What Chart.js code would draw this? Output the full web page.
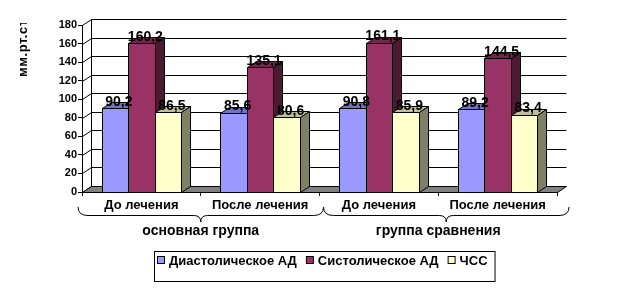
<!DOCTYPE html>
<html>
<head>
<meta charset="utf-8">
<script src="https://cdn.jsdelivr.net/npm/chart.js@4.4.1/dist/chart.umd.min.js"></script>
<style>
  body { margin: 0; background: #fff; }
  #wrap { width: 623px; height: 293px; }
</style>
</head>
<body>
<div id="wrap"><canvas id="chart" width="623" height="293"></canvas></div>
<script>
// data
const categories = ['До лечения', 'После лечения', 'До лечения', 'После лечения'];
const groupNames = ['основная группа', 'группа сравнения'];
const groupSpans = [[0, 1], [2, 3]];
const seriesNames = ['Диастолическое АД', 'Систолическое АД', 'ЧСС'];
const diastolic = [90.2, 85.6, 90.8, 89.2];
const systolic = [160.2, 135.1, 161.1, 144.5];
const heartRate = [86.5, 80.6, 85.9, 83.4];
const yMin = 0, yMax = 180, yStep = 20;
const yTitle = 'мм.рт.ст';

const frontColors = ['#9999FF', '#993366', '#FFFFCC'];
const topColors = ['#7373BF', '#73264D', '#BFBF99'];
const sideColors = ['#4D4D80', '#4D1A33', '#808066'];
const DX = 9, DY = -6; // depth of the 3d box
const FONT = '"Liberation Sans", Arial, sans-serif';

function fmt(v) {
  return v.toFixed(1).replace('.', ',');
}

function poly(ctx, pts, fill) {
  ctx.beginPath();
  ctx.moveTo(pts[0][0], pts[0][1]);
  for (let i = 1; i < pts.length; i++) ctx.lineTo(pts[i][0], pts[i][1]);
  ctx.closePath();
  ctx.fillStyle = fill;
  ctx.fill();
  ctx.stroke();
}

// walls, floor, bars and value labels drawn by hand to get the 3d look
const box3d = {
  id: 'box3d',
  beforeDatasetsDraw(chart) {
    const ctx = chart.ctx;
    const area = chart.chartArea;
    const y = chart.scales.y;
    const L = area.left + 0.5, R = area.right + 0.5, B = Math.round(y.getPixelForValue(0)) + 0.5;
    ctx.save();
    ctx.lineWidth = 1;
    ctx.strokeStyle = '#000';

    // back wall grid + diagonals on left wall
    for (let v = yMin; v <= yMax; v += yStep) {
      const py = Math.round(y.getPixelForValue(v)) + 0.5;
      ctx.beginPath();
      ctx.moveTo(L, py);
      ctx.lineTo(L + DX, py + DY);
      ctx.lineTo(R + DX, py + DY);
      ctx.stroke();
    }
    ctx.beginPath();
    ctx.moveTo(L + DX, Math.round(y.getPixelForValue(yMax)) + 0.5 + DY);
    ctx.lineTo(L + DX, B + DY);
    ctx.stroke();

    // floor
    poly(ctx, [[L, B], [R, B], [R + DX, B + DY], [L + DX, B + DY]], '#808080');

    // bars, category by category so the next bar hides the previous side face
    const metas = chart.data.datasets.map((d, i) => chart.getDatasetMeta(i));
    for (let c = 0; c < categories.length; c++) {
      metas.forEach((meta, d) => {
        const bar = meta.data[c];
        const p = bar.getProps(['x', 'y', 'base', 'width'], true);
        const l = Math.round(p.x - p.width / 2) + 0.5;
        const r = Math.round(p.x + p.width / 2) + 0.5;
        const t = Math.round(p.y) + 0.5;
        const b = Math.round(p.base) + 0.5;
        poly(ctx, [[l, t], [r, t], [r, b], [l, b]], frontColors[d]);
        poly(ctx, [[l, t], [r, t], [r + DX, t + DY], [l + DX, t + DY]], topColors[d]);
        poly(ctx, [[r, t], [r + DX, t + DY], [r + DX, b + DY], [r, b]], sideColors[d]);
      });
    }

    // value labels
    ctx.fillStyle = '#000';
    ctx.font = 'bold 14px ' + FONT;
    ctx.textAlign = 'center';
    ctx.textBaseline = 'middle';
    metas.forEach((meta, d) => {
      meta.data.forEach((bar, c) => {
        const p = bar.getProps(['x', 'y'], true);
        ctx.fillText(fmt(chart.data.datasets[d].data[c]), p.x + 4, p.y - 6);
      });
    });
    ctx.restore();
    return false;
  },
  afterDraw(chart) {
    const ctx = chart.ctx;
    const x = chart.scales.x;
    ctx.save();

    // braces + group names
    ctx.strokeStyle = '#000';
    ctx.lineWidth = 1;
    ctx.fillStyle = '#000';
    ctx.font = 'bold 14px ' + FONT;
    ctx.textAlign = 'center';
    ctx.textBaseline = 'middle';
    const half = (x.getPixelForValue(1) - x.getPixelForValue(0)) / 2;
    groupSpans.forEach((span, g) => {
      const x0 = x.getPixelForValue(span[0]) - half - 4 + 8 * g;
      const x1 = x.getPixelForValue(span[1]) + half + 4 + 8 * g;
      const xc = (x0 + x1) / 2;
      const yTop = 207, yMid = 215.5, yTip = 222;
      ctx.beginPath();
      ctx.moveTo(x0, yTop);
      ctx.quadraticCurveTo(x0, yMid, x0 + 10, yMid);
      ctx.lineTo(xc - 7, yMid);
      ctx.quadraticCurveTo(xc, yMid, xc, yTip);
      ctx.quadraticCurveTo(xc, yMid, xc + 7, yMid);
      ctx.lineTo(x1 - 10, yMid);
      ctx.quadraticCurveTo(x1, yMid, x1, yTop);
      ctx.stroke();
      const mid = (x.getPixelForValue(span[0]) + x.getPixelForValue(span[1])) / 2;
      ctx.fillText(groupNames[g], mid, 231);
    });

    // y title, cut off at the top like the original
    ctx.save();
    ctx.beginPath();
    ctx.rect(0, 23, 60, 100);
    ctx.clip();
    ctx.translate(27, 77);
    ctx.rotate(-Math.PI / 2);
    ctx.font = 'bold 13px ' + FONT;
    ctx.letterSpacing = '0.6px';
    ctx.textAlign = 'left';
    ctx.textBaseline = 'alphabetic';
    ctx.fillText(yTitle, 0, 0);
    ctx.restore();

    // legend box
    ctx.font = 'bold 13px ' + FONT;
    ctx.textAlign = 'left';
    ctx.textBaseline = 'middle';
    const boxL = 154, boxT = 251, boxB = 281;
    let cx = 157;
    const ly = 264;
    seriesNames.forEach((name, i) => {
      ctx.fillStyle = frontColors[i];
      ctx.fillRect(cx + 0.5, ly - 7.5, 7, 7);
      ctx.strokeRect(cx + 0.5, ly - 7.5, 7, 7);
      ctx.fillStyle = '#000';
      ctx.fillText(name, cx + 12, ly - 3);
      cx += 12 + ctx.measureText(name).width + 9;
    });
    const boxR = cx - 9 + 7;
    ctx.strokeRect(boxL + 0.5, boxT + 0.5, boxR - boxL, boxB - boxT);
    ctx.restore();
  }
};

new Chart(document.getElementById('chart'), {
  type: 'bar',
  data: {
    labels: categories,
    datasets: [
      { label: seriesNames[0], data: diastolic, backgroundColor: frontColors[0] },
      { label: seriesNames[1], data: systolic, backgroundColor: frontColors[1] },
      { label: seriesNames[2], data: heartRate, backgroundColor: frontColors[2] }
    ]
  },
  options: {
    responsive: false,
    animation: false,
    layout: { padding: { left: 0, right: 66, top: 25, bottom: 0 } },
    datasets: { bar: { categoryPercentage: 0.67, barPercentage: 1 } },
    plugins: { legend: { display: false }, tooltip: { enabled: false } },
    scales: {
      x: {
        afterFit: s => { s.height = 101; },
        grid: { drawOnChartArea: false, tickLength: 4, color: '#000', offset: true },
        border: { color: '#000' },
        ticks: { color: '#000', font: { family: FONT, size: 13, weight: 'bold' }, padding: 2, maxRotation: 0, autoSkip: false }
      },
      y: {
        min: yMin,
        max: yMax,
        afterFit: s => { s.width = 82; },
        grid: { drawOnChartArea: false, tickLength: 4, color: '#000' },
        border: { color: '#000' },
        ticks: { stepSize: yStep, color: '#000', font: { family: FONT, size: 11, weight: 'bold' }, padding: 1 }
      }
    }
  },
  plugins: [box3d]
});
</script>
</body>
</html>
